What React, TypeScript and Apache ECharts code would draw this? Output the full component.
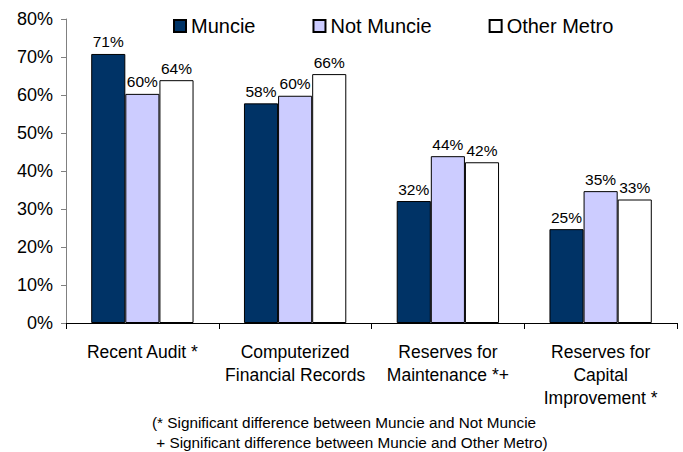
import React, { useEffect, useRef } from "react";
import * as echarts from "echarts";

const categories = [
  "Recent Audit *",
  "Computerized\nFinancial Records",
  "Reserves for\nMaintenance *+",
  "Reserves for\nCapital\nImprovement *",
];
const muncie = [70.8, 57.8, 32.1, 24.7];
const notMuncie = [60.3, 59.8, 43.9, 34.7];
const otherMetro = [63.9, 65.5, 42.3, 32.5];
const seriesNames = ["Muncie", "Not Muncie", "Other Metro"];
const footnote =
  "(* Significant difference between Muncie and Not Muncie\n + Significant difference between Muncie and Other Metro)";

const FONT = "'Liberation Sans', Arial, sans-serif";

export default function App() {
  const ref = useRef<HTMLDivElement>(null);
  useEffect(() => {
    if (!ref.current) return;
    const chart = echarts.init(ref.current, null, { renderer: "svg" });
    const colors = ["#003366", "#CCCCFF", "#FFFFFF"];
    const data = [muncie, notMuncie, otherMetro];
    chart.setOption({
      animation: false,
      textStyle: { fontFamily: FONT },
      legend: {
        left: 168,
        top: 11,
        itemWidth: 12,
        itemHeight: 12,
        itemGap: 57,
        icon: "rect",
        textStyle: { fontSize: 20, color: "#000", fontFamily: FONT },
        data: seriesNames,
      },
      grid: { left: 66, right: 6, top: 19, bottom: 129, containLabel: false },
      xAxis: {
        type: "category",
        data: categories,
        axisLine: { lineStyle: { color: "#000", width: 1 } },
        axisTick: { show: true, length: 6, lineStyle: { color: "#000" } },
        axisLabel: {
          color: "#000",
          fontSize: 17.5,
          lineHeight: 23,
          margin: 17,
          interval: 0,
          fontFamily: FONT,
        },
      },
      yAxis: {
        type: "value",
        min: 0,
        max: 80,
        interval: 10,
        axisLine: { show: true, lineStyle: { color: "#808080", width: 1 } },
        axisTick: { show: true, length: 5, lineStyle: { color: "#808080" } },
        splitLine: { show: false },
        axisLabel: {
          color: "#000",
          fontSize: 18,
          margin: 13,
          formatter: "{value}%",
          fontFamily: FONT,
        },
      },
      series: seriesNames.map((name, i) => ({
        name,
        type: "bar",
        data: data[i],
        barGap: "0%",
        barCategoryGap: "33%",
        itemStyle: { color: colors[i], borderColor: "#000", borderWidth: 1 },
        label: {
          show: true,
          position: "top",
          distance: 4,
          fontSize: 15.5,
          color: "#000",
          fontFamily: FONT,
          formatter: (p: any) => Math.round(p.value) + "%",
        },
      })),
      graphic: [
        {
          type: "text",
          left: 152,
          top: 412,
          style: {
            text: footnote,
            fontSize: 15.3,
            lineHeight: 20,
            fill: "#000",
            fontFamily: FONT,
          },
        },
      ],
    });
    return () => chart.dispose();
  }, []);
  return (
    <div
      ref={ref}
      style={{ position: "fixed", left: 0, top: 0, width: 683, height: 452, background: "#fff" }}
    />
  );
}
